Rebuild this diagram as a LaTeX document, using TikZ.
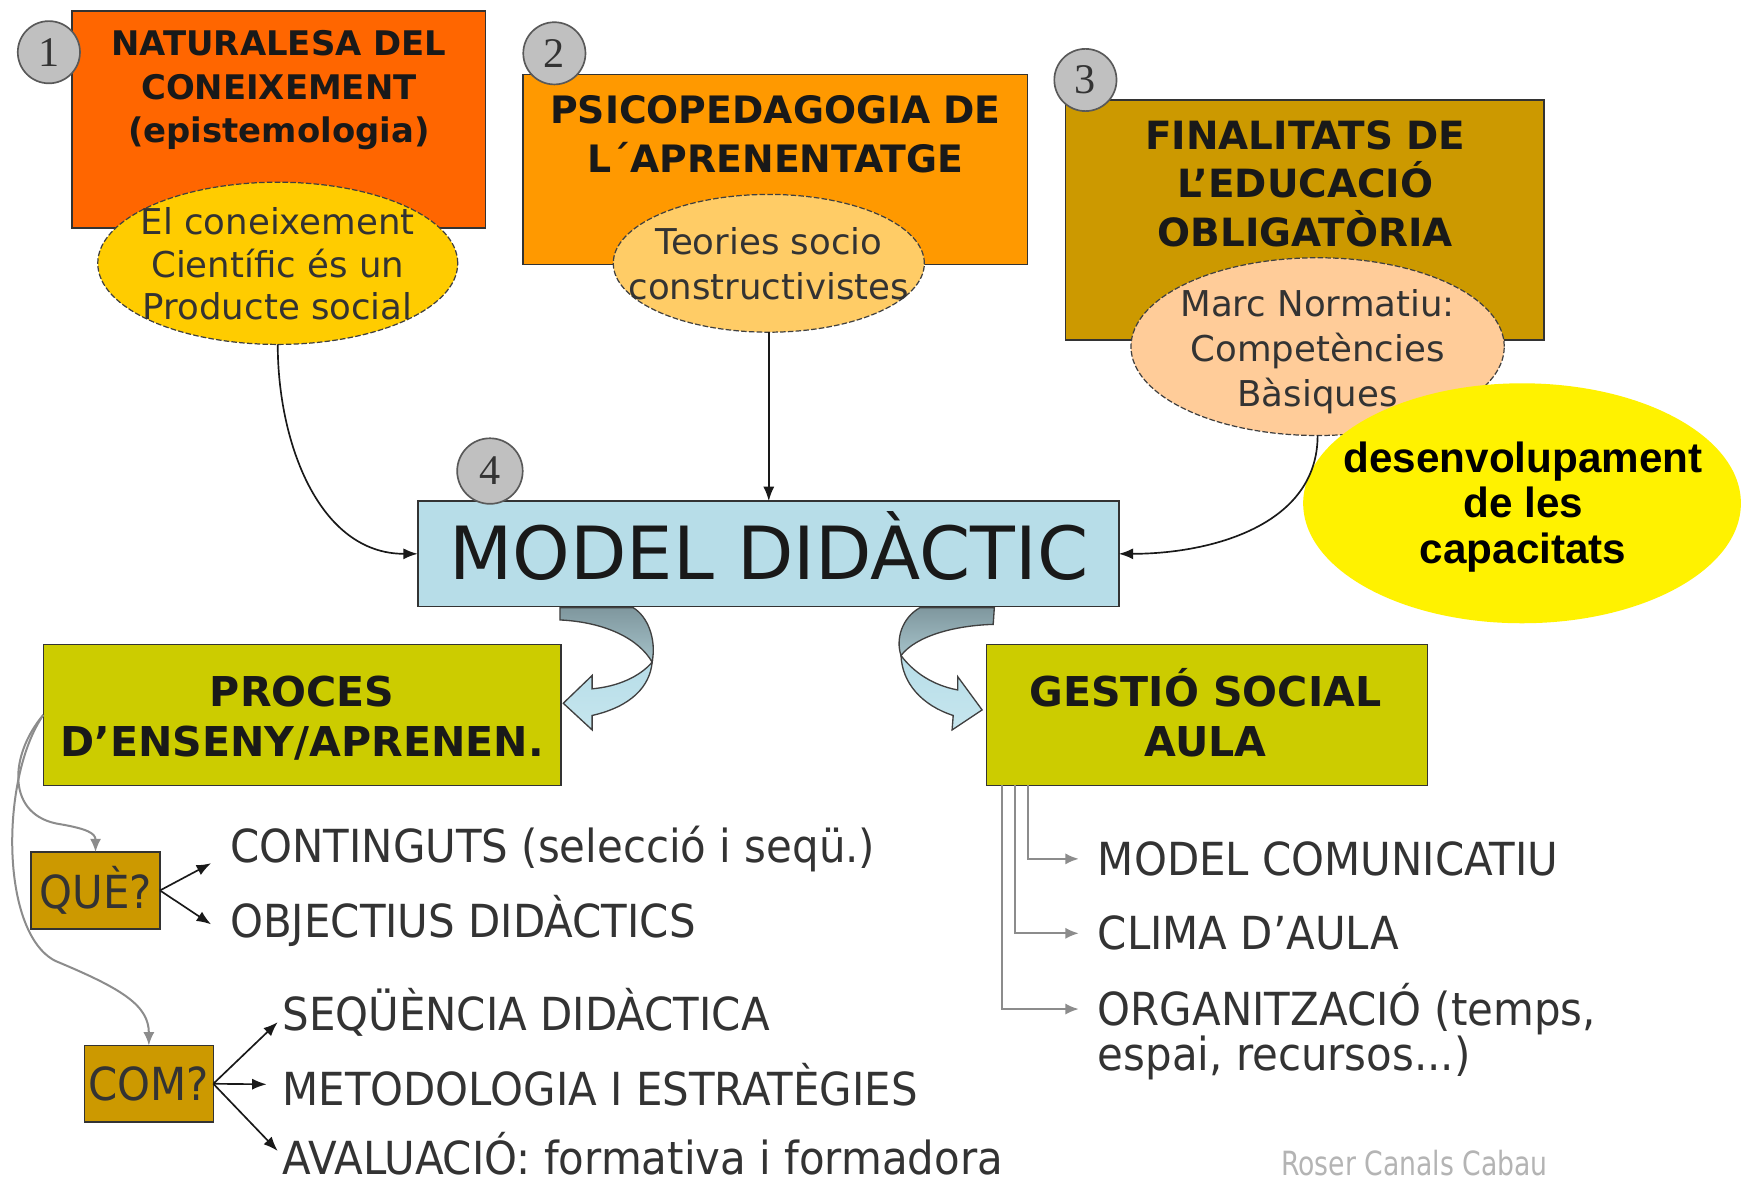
\documentclass[tikz,border=0pt]{standalone}
\usepackage{fontspec}
\setmainfont{DejaVu Sans}
\newfontfamily\numfont{Liberation Serif}
\newfontfamily\arialf{Liberation Sans}
\newfontfamily\condf{DejaVu Sans}[FakeStretch=0.92]
\newfontfamily\signf{DejaVu Sans}[FakeStretch=0.80]
\usetikzlibrary{arrows.meta,shapes.geometric}
\definecolor{cBoxA}{HTML}{FF6600}
\definecolor{cBoxB}{HTML}{FF9900}
\definecolor{cBoxC}{HTML}{CC9900}
\definecolor{cEllA}{HTML}{FFCC00}
\definecolor{cEllB}{HTML}{FFCC66}
\definecolor{cEllC}{HTML}{FFCC99}
\definecolor{cModel}{HTML}{B7DDE8}
\definecolor{cRibTop}{HTML}{7F979E}
\definecolor{cRibMid}{HTML}{A5C2C9}
\definecolor{cRibLight}{HTML}{C6E6EE}
\definecolor{cOlive}{HTML}{CCCC00}
\definecolor{cCircle}{HTML}{C0C0C0}
\definecolor{cText}{HTML}{333333}
\definecolor{cGrayLine}{HTML}{8C8C8C}
\definecolor{cSign}{HTML}{B4B4B4}
\begin{document}
\begin{tikzpicture}[x=1pt,y=-1pt,
  boxst/.style={rectangle, draw=black!80, line width=1.4pt, inner sep=0pt, outer sep=0pt},
  ellst/.style={ellipse, draw=black!75, line width=1.1pt, dash pattern=on 5pt off 2pt, inner sep=0pt, outer sep=0pt},
  numst/.style={circle, draw=black!65, line width=1.5pt, fill=cCircle, minimum size=56pt, inner sep=0pt, text=black!80, font=\numfont\fontsize{38}{38}\selectfont},
  ttlA/.style={anchor=base, inner sep=0pt, text=black!90, font=\bfseries\fontsize{30.5}{36}\selectfont},
  ttlB/.style={anchor=base, inner sep=0pt, text=black!90, font=\bfseries\fontsize{34}{40}\selectfont},
  ttlC/.style={anchor=base, inner sep=0pt, text=black!90, font=\bfseries\fontsize{35}{40}\selectfont},
  ttlD/.style={anchor=base, inner sep=0pt, text=black!90, font=\bfseries\fontsize{37}{42}\selectfont},
  elltxt/.style={anchor=base, inner sep=0pt, text=cText, font=\fontsize{32}{38}\selectfont},
  yeltxt/.style={anchor=base, inner sep=0pt, text=black, font=\arialf\bfseries\fontsize{38}{44}\selectfont},
  lowtxt/.style={anchor=base west, inner sep=0pt, text=cText, font=\condf\fontsize{41}{48}\selectfont},
  blk/.style={draw=black!90, line width=1.5pt, -{Latex[length=13pt,width=10pt]}},
  grayarr/.style={draw=cGrayLine, line width=1.8pt, -{Latex[length=12pt,width=10pt]}},
  ribgray/.style={draw=black!75, line width=1.2pt, top color=cRibTop, bottom color=cRibMid},
  ribblue/.style={draw=black!75, line width=1.2pt, top color=cModel, bottom color=cRibLight}
]
\useasboundingbox (0,0) rectangle (1568,1066);
\clip (0,0) rectangle (1568,1066);
\fill[white] (0,0) rectangle (1568,1066);

% top boxes
\node[boxst, fill=cBoxA, minimum width=372pt, minimum height=195pt] (b1) at (251,107.5) {};
\node[boxst, fill=cBoxB, minimum width=454pt, minimum height=171pt] (b2) at (698,152.5) {};
\node[boxst, fill=cBoxC, minimum width=431pt, minimum height=216pt] (b3) at (1174.5,198) {};

\node[ttlA] (t1a) at (251,50) {NATURALESA DEL};
\node[ttlA] (t1b) at (251,90) {CONEIXEMENT};
\node[ttlA] (t1c) at (251,128) {(epistemologia)};
\node[ttlB] (t2a) at (698,111) {PSICOPEDAGOGIA DE};
\node[ttlB] (t2b) at (698,155) {L´APRENENTATGE};
\node[ttlC] (t3a) at (1175,135) {FINALITATS DE};
\node[ttlC] (t3b) at (1175,178) {L’EDUCACIÓ};
\node[ttlC] (t3c) at (1175,222) {OBLIGATÒRIA};

% ellipses
\node[ellst, fill=cEllA, minimum width=324pt, minimum height=146pt] (e1) at (250,237) {};
\node[ellst, fill=cEllB, minimum width=280pt, minimum height=124pt] (e2) at (692,237) {};
\node[ellst, fill=cEllC, minimum width=336pt, minimum height=160pt] (e3) at (1186,312) {};

\node[elltxt] (e1a) at (250,211) {El coneixement};
\node[elltxt] (e1b) at (250,250) {Científic és un};
\node[elltxt] (e1c) at (250,288) {Producte social};
\node[elltxt] (e2a) at (692,229) {Teories socio};
\node[elltxt] (e2b) at (692,270) {constructivistes};
\node[elltxt] (e3a) at (1186,285) {Marc Normatiu:};
\node[elltxt] (e3b) at (1186,325) {Competències};
\node[elltxt] (e3c) at (1186,366) {Bàsiques};

% yellow ellipse
\node[ellipse, fill=yellow, minimum width=394pt, minimum height=216pt, inner sep=0pt] (ye) at (1370,453) {};
\node[yeltxt] (y1) at (1371,425) {desenvolupament};
\node[yeltxt] (y2) at (1371,466) {de les};
\node[yeltxt] (y3) at (1371,507) {capacitats};

% model box
\node[boxst, fill=cModel, minimum width=631pt, minimum height=95pt] (model) at (691.5,498.5) {};
\node[anchor=base, inner sep=0pt, text=black!90, font=\fontsize{66}{70}\selectfont] (mt) at (692,522) {MODEL DIDÀCTIC};

% number circles
\node[numst] (n1) at (44,47) {1};
\node[numst] (n2) at (499,48) {2};
\node[numst] (n3) at (977,72) {3};
\node[numst, minimum size=59pt] (n4) at (441,424) {4};

% connectors to model
\draw[blk] (e1.south) to[out=-90,in=180] (model.west);
\draw[blk] (e2.south) -- (model.north -| e2.south);
\draw[blk] (e3.south) to[out=-90,in=0] (model.east);

% curved block arrows (left)
\path[ribgray] (504,547) -- (570,547) .. controls (583,555) and (591,575) .. (587,596)
  .. controls (575,575) and (545,560) .. (504,558) -- cycle;
\path[ribblue] (587,596) .. controls (585,618) and (568,636) .. (533,644)
  -- (533,657) -- (507,633) -- (533,608) -- (533,620)
  .. controls (556,618) and (576,609) .. (587,596) -- cycle;
% curved block arrows (right)
\path[ribgray] (895,547) -- (894,562) .. controls (860,563) and (825,572) .. (811,590)
  .. controls (806,575) and (812,556) .. (828,547) -- cycle;
\path[ribblue] (811,590) .. controls (812,615) and (830,635) .. (858,644)
  -- (857,657) -- (884,639) -- (862,609) -- (862,621)
  .. controls (840,617) and (822,605) .. (811,590) -- cycle;

% lower boxes
\node[boxst, fill=cOlive, minimum width=466pt, minimum height=127pt] (proc) at (272,643.5) {};
\node[boxst, fill=cOlive, minimum width=397pt, minimum height=127pt] (gest) at (1086.5,643.5) {};
\node[ttlD] (p1) at (272,636) {PROCES};
\node[ttlD] (p2) at (272,681) {D’ENSENY/APRENEN.};
\node[ttlD] (g1) at (1085,636) {GESTIÓ SOCIAL};
\node[ttlD] (g2) at (1085,681) {AULA};

\node[boxst, fill=cBoxC, minimum width=116pt, minimum height=69pt, text=cText, font=\condf\fontsize{41}{48}\selectfont] (que) at (86,801.5) {QUÈ?};
\node[boxst, fill=cBoxC, minimum width=116pt, minimum height=69pt, text=cText, font=\condf\fontsize{41}{48}\selectfont] (com) at (134,975.5) {COM?};

% lower texts
\node[lowtxt] (tc1) at (207,776) {CONTINGUTS (selecció i seqü.)};
\node[lowtxt] (tc2) at (207,844) {OBJECTIUS DIDÀCTICS};
\node[lowtxt] (tc3) at (254,928) {SEQÜÈNCIA DIDÀCTICA};
\node[lowtxt] (tc4) at (254,995) {METODOLOGIA I ESTRATÈGIES};
\node[lowtxt] (tc5) at (254,1057) {AVALUACIÓ: formativa i formadora};
\node[lowtxt] (mc) at (988,788) {MODEL COMUNICATIU};
\node[lowtxt] (cl) at (988,855) {CLIMA D’AULA};
\node[lowtxt] (org) at (988,923) {ORGANITZACIÓ (temps,};
\node[lowtxt] (org2) at (988,964) {espai, recursos...)};
\node[anchor=base west, inner sep=0pt, text=cSign, font=\signf\fontsize{30}{34}\selectfont] (sign) at (1153,1058) {Roser Canals Cabau};

% gray curved arrows from PROCES
\draw[grayarr] (proc.west) .. controls (8,680) and (5,735) .. (55,742) .. controls (78,746) and (86,750) .. (que.north);
\draw[grayarr] (proc.west) .. controls (0,700) and (0,840) .. (50,865) .. controls (110,890) and (134,905) .. (com.north);

% black arrows from QUE / COM
\coordinate (qa) at (190,777);
\coordinate (qb) at (190,832);
\coordinate (ca) at (250,920);
\coordinate (cb) at (240,976);
\coordinate (cc) at (250,1036);
\draw[blk] (que.east) -- (qa);
\draw[blk] (que.east) -- (qb);
\draw[blk] (com.east) -- (ca);
\draw[blk] (com.east) -- (cb);
\draw[blk] (com.east) -- (cc);

% gray elbow arrows from GESTIO
\draw[grayarr] ([xshift=37pt]gest.south west) |- ([xshift=-17pt]mc.west);
\draw[grayarr] ([xshift=26pt]gest.south west) |- ([xshift=-17pt]cl.west);
\draw[grayarr] ([xshift=14pt]gest.south west) |- ([xshift=-17pt]org.west);
\end{tikzpicture}
\end{document}
